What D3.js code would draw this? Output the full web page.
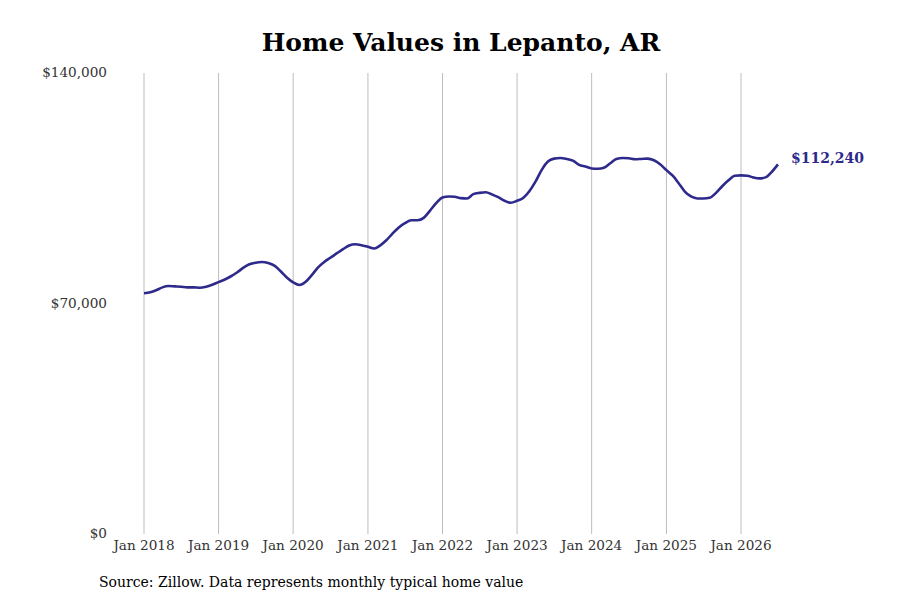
<!DOCTYPE html>
<html>
<head>
<meta charset="utf-8">
<script src="https://cdn.jsdelivr.net/npm/d3@7"></script>
<style>
  body { margin: 0; background: #fff; }
  text { font-family: "DejaVu Serif", serif; }
</style>
</head>
<body>
<div id="chart"></div>
<script>
// monthly typical home value, Jan 2018 .. Jul 2026
const startMonth = "2018-01-01";
const values = [
  73100, 73400, 74000, 74900, 75300, 75200, 75100, 74900, 74900, 74800, 75100, 75700,
  76500, 77300, 78200, 79400, 80800, 81900, 82400, 82600, 82300, 81500, 79800, 77900,
  76400, 75600, 76500, 78600, 80900, 82600, 83900, 85200, 86500, 87600, 88000, 87700,
  87200, 86700, 87600, 89200, 91200, 93100, 94400, 95300, 95300, 96000, 98200, 100500,
  102200, 102500, 102400, 102000, 101900, 103200, 103600, 103800, 103100, 102300, 101200, 100600,
  101200, 102100, 104000, 107000, 110500, 113100, 114000, 114200, 113900, 113400, 112100, 111600,
  111000, 110900, 111200, 112600, 113900, 114200, 114100, 113800, 113900, 114000, 113500, 112300,
  110500, 108800, 106600, 104000, 102500, 101900, 101900, 102100, 103600, 105600, 107400, 108800,
  108900, 108800, 108300, 108000, 108300, 110000, 112240
];
const tickYears = [2018, 2019, 2020, 2021, 2022, 2023, 2024, 2025, 2026];
const yTicks = [0, 70000, 140000];
const lastLabel = "$112,240";

const W = 900, H = 600;
const margin = { top: 73, right: 159, bottom: 66, left: 144 };

const months = d3.utcMonth.range(new Date(startMonth), new Date(Date.UTC(2026, 7, 1)));
const data = months.map((d, i) => ({ date: d, value: values[i] }));

const svg = d3.select("#chart").append("svg")
    .attr("width", W)
    .attr("height", H);

const x = d3.scaleUtc()
    .domain([new Date(Date.UTC(2018, 0, 1)), new Date(Date.UTC(2026, 0, 1))])
    .range([144, 741]);

const y = d3.scaleLinear()
    .domain([0, 140000])
    .range([H - margin.bottom, margin.top]);

// Title
svg.append("text")
    .attr("x", 461)
    .attr("y", 51)
    .attr("text-anchor", "middle")
    .style("font-size", "25px")
    .style("font-weight", "bold")
    .style("fill", "#000")
    .text("Home Values in Lepanto, AR");

// vertical gridlines
svg.append("g")
    .selectAll("line")
    .data(tickYears)
    .join("line")
    .attr("x1", d => x(new Date(Date.UTC(d, 0, 1))))
    .attr("x2", d => x(new Date(Date.UTC(d, 0, 1))))
    .attr("y1", y(140000))
    .attr("y2", y(0))
    .attr("stroke", "#bdbdbd")
    .attr("stroke-width", 1);

// x labels
svg.append("g")
    .selectAll("text")
    .data(tickYears)
    .join("text")
    .attr("x", d => x(new Date(Date.UTC(d, 0, 1))))
    .attr("y", y(0) + 16)
    .attr("text-anchor", "middle")
    .style("font-size", "13.6px")
    .style("fill", "#333")
    .text(d => "Jan " + d);

// y labels
const fmt = d3.format("$,");
svg.append("g")
    .selectAll("text")
    .data(yTicks)
    .join("text")
    .attr("x", 107)
    .attr("y", d => y(d))
    .attr("dy", "0.32em")
    .attr("text-anchor", "end")
    .style("font-size", "13.6px")
    .style("fill", "#333")
    .text(d => fmt(d));

// line
const line = d3.line()
    .x(d => x(d.date))
    .y(d => y(d.value))
    .curve(d3.curveMonotoneX);

svg.append("path")
    .datum(data)
    .attr("fill", "none")
    .attr("stroke", "#2e2a8c")
    .attr("stroke-width", 2.6)
    .attr("stroke-linejoin", "round")
    .attr("d", line);

// end label
const last = data[data.length - 1];
svg.append("text")
    .attr("x", x(last.date) + 13)
    .attr("y", y(last.value) - 6)
    .attr("dy", "0.32em")
    .style("font-size", "14px")
    .style("font-weight", "bold")
    .style("fill", "#2e2a8c")
    .text(lastLabel);

// source
svg.append("text")
    .attr("x", 99)
    .attr("y", 587)
    .style("font-size", "14px")
    .style("fill", "#000")
    .text("Source: Zillow. Data represents monthly typical home value");
</script>
</body>
</html>
